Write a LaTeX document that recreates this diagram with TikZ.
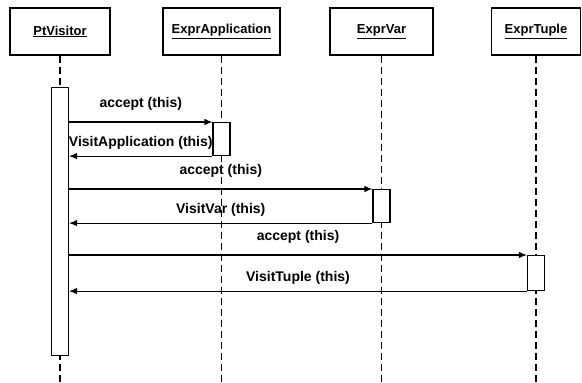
\documentclass[tikz,border=0pt]{standalone}
\usepackage{fontspec}
\setmainfont{Liberation Sans}
\usetikzlibrary{arrows.meta}
\begin{document}
\begin{tikzpicture}[x=1pt,y=-1pt,>={Latex[length=8pt,width=6.5pt]},line width=1.1pt,
  objbox/.style={draw,minimum height=47pt,font=\fontsize{13}{15}\bfseries},
  actbar/.style={draw,fill=white,minimum width=17pt,anchor=north,inner sep=0pt},
  lifeline/.style={dashed,dash pattern=on 7pt off 4pt,line width=1.3pt},
  calllbl/.style={above=8pt,font=\fontsize{14}{16}\bfseries},
  retlbl/.style={above=2.5pt,font=\fontsize{14}{16}\bfseries}]
\def\Bot{383}
\useasboundingbox (0,0) rectangle (582,\Bot);
% objects
\node[objbox,minimum width=100pt] (pt)   at (60,31.5)    {\underline{PtVisitor}};
\node[objbox,minimum width=117pt] (app)  at (221.5,31.5) {\underline{ExprApplication}};
\node[objbox,minimum width=103pt] (var)  at (381.5,31.5) {\underline{ExprVar}};
\node[objbox,minimum width=89pt]  (tup)  at (536,31.5)   {\underline{ExprTuple}};
% lifelines
\foreach \o in {pt,app,var,tup}
  \draw[lifeline] (\o.south) -- (\o.south |- 0,\Bot);
% activations
\node[actbar,minimum height=268pt] (ptact)  at (pt.south |- 0,87)   {};
\node[actbar,minimum height=33pt]  (appact) at (app.south |- 0,122) {};
\node[actbar,minimum height=33pt]  (varact) at (var.south |- 0,189) {};
\node[actbar,minimum height=35pt]  (tupact) at (tup.south |- 0,255) {};
% messages
\draw[->] (ptact.east |- appact.north) -- node[calllbl] {accept (this)} (appact.north west);
\draw[->] (appact.south west) -- node[retlbl] {VisitApplication (this)} (ptact.east |- appact.south);
\draw[->] (ptact.east |- varact.north) -- node[calllbl] {accept (this)} (varact.north west);
\draw[->] (varact.south west) -- node[retlbl] {VisitVar (this)} (ptact.east |- varact.south);
\draw[->] (ptact.east |- tupact.north) -- node[calllbl] {accept (this)} (tupact.north west);
\draw[->] (tupact.south west) -- node[retlbl] {VisitTuple (this)} (ptact.east |- tupact.south);
\end{tikzpicture}
\end{document}
